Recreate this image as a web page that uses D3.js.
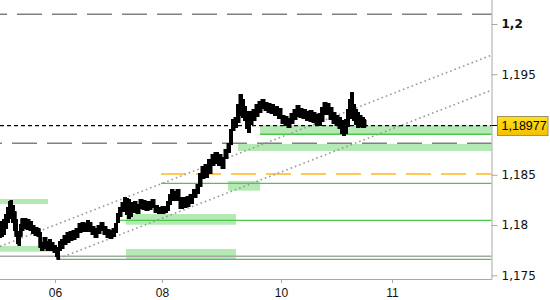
<!DOCTYPE html>
<html><head><meta charset="utf-8">
<script src="https://cdn.jsdelivr.net/npm/d3@7"></script>
<style>html,body{margin:0;padding:0;background:#fff;}svg{display:block;}</style>
</head><body>
<script>
// ---- data ----
const barIndex = [0,2,4,6,8,10,11,13,15,16,18,19,21,22,25,28,31,33,36,39,40,42,45,48,50,52,55,57,58,60,62,65,68,71,74,77,80,83,86,88,90,93,96,99,102,105,108,111,114,116,118,120,123,125,127,129,131,133,135,138,141,144,147,150,153,156,160,163,166,168,170,172,175,178,181,185,188,191,195,198,200,203,206,210,213,216,220,223,226,229,231,233,236,238,241,243,245,247,249,251,254,257,260,263,266,269,272,276,280,283,286,289,292,295,298,301,304,308,311,314,317,320,322,325,328,331,334,337,340,342,344,346,348,350,352,354,356,358,360,363,365];
const highs = [1.17970,1.18030,1.18050,1.18100,1.18169,1.18229,1.18239,1.18189,1.18129,1.18050,1.17930,1.17891,1.18000,1.18060,1.18060,1.18050,1.18030,1.17990,1.17970,1.17960,1.17920,1.17821,1.17871,1.17831,1.17851,1.17821,1.17791,1.17771,1.17751,1.17831,1.17851,1.17891,1.17920,1.17930,1.17940,1.17960,1.18010,1.18020,1.18010,1.18040,1.18020,1.17980,1.17960,1.17990,1.18020,1.17980,1.17950,1.17940,1.17960,1.18010,1.18110,1.18169,1.18219,1.18269,1.18259,1.18249,1.18199,1.18219,1.18229,1.18199,1.18249,1.18239,1.18229,1.18229,1.18249,1.18189,1.18169,1.18179,1.18179,1.18229,1.18299,1.18348,1.18328,1.18348,1.18269,1.18269,1.18279,1.18299,1.18348,1.18398,1.18508,1.18577,1.18597,1.18647,1.18697,1.18716,1.18697,1.18667,1.18746,1.18806,1.18945,1.19045,1.19065,1.19194,1.19293,1.19244,1.19174,1.19124,1.19065,1.19124,1.19144,1.19194,1.19224,1.19244,1.19214,1.19204,1.19194,1.19174,1.19154,1.19085,1.19075,1.19055,1.19105,1.19144,1.19184,1.19154,1.19144,1.19124,1.19134,1.19114,1.19095,1.19105,1.19164,1.19214,1.19204,1.19164,1.19114,1.19085,1.19065,1.19035,1.19005,1.19045,1.19144,1.19244,1.19313,1.19194,1.19144,1.19114,1.19085,1.19065,1.19045];
const lows = [1.17881,1.17891,1.17910,1.17970,1.18030,1.18070,1.18100,1.18030,1.17950,1.17891,1.17821,1.17801,1.17891,1.17950,1.17970,1.17960,1.17950,1.17920,1.17901,1.17891,1.17781,1.17751,1.17771,1.17751,1.17771,1.17751,1.17731,1.17692,1.17662,1.17751,1.17771,1.17811,1.17831,1.17851,1.17861,1.17881,1.17930,1.17940,1.17940,1.17970,1.17940,1.17910,1.17881,1.17920,1.17950,1.17910,1.17881,1.17871,1.17891,1.17930,1.18030,1.18090,1.18139,1.18149,1.18110,1.18070,1.18090,1.18129,1.18129,1.18119,1.18169,1.18159,1.18149,1.18159,1.18179,1.18129,1.18119,1.18119,1.18129,1.18149,1.18209,1.18249,1.18249,1.18249,1.18169,1.18179,1.18189,1.18219,1.18279,1.18318,1.18388,1.18468,1.18478,1.18517,1.18597,1.18617,1.18597,1.18567,1.18667,1.18726,1.18806,1.18945,1.18975,1.19025,1.19095,1.19075,1.19045,1.18965,1.18925,1.19005,1.19045,1.19085,1.19124,1.19164,1.19144,1.19124,1.19114,1.19095,1.19065,1.19015,1.18995,1.18975,1.19015,1.19055,1.19085,1.19075,1.19065,1.19045,1.19035,1.19025,1.19005,1.18995,1.19035,1.19105,1.19105,1.19055,1.19015,1.18995,1.18965,1.18915,1.18896,1.18915,1.18985,1.19065,1.19105,1.19045,1.19005,1.18975,1.18985,1.18975,1.18975];

const lastPrice = "1,18977";
const bidLine = 1.1899;

const yTicks = [1.175, 1.18, 1.185, 1.195, 1.2];
const yTickLabels = ["1,175", "1,18", "1,185", "1,195", "1,2"];
const xTickIndex = [55, 162, 281, 392];
const xTickLabels = ["06", "08", "10", "11"];

// horizontal levels
const grayDashLevels = [1.20097, 1.18813];
const greenLevels = [1.18903, 1.18415, 1.18047, 1.17659];
const greenLevelStart = [260, 161, 116, 57];
const orangeLevel = 1.18508, orangeStart = 161;
const graySolidLevel = 1.17689;
// zones [startIndex, endIndex, top, bottom]
const zoneStart = [260, 238, 0, 0, 126, 126, 228];
const zoneEnd   = [492, 492, 48, 55, 236, 236, 260];
const zoneTop   = [1.18992, 1.18806, 1.18259, 1.17791, 1.18110, 1.17762, 1.18438];
const zoneBottom= [1.18903, 1.18737, 1.18209, 1.17735, 1.18003, 1.17659, 1.18342];
// channel lines
const channelStart = [[0, 1.17787], [59, 1.17669]];
const channelEnd   = [[492, 1.19692], [492, 1.19343]];

// ---- drawing ----
const W = 550, H = 300;
const plotRight = 491.5, plotBottom = 279;
const svg = d3.select("body").append("svg").attr("width", W).attr("height", H);
const x = d3.scaleLinear().domain([0, 492]).range([0, 492]);
const y = d3.scaleLinear().domain([1.175, 1.2]).range([275.3, 24]);

const defs = svg.append("defs");
defs.append("clipPath").attr("id", "plot").append("rect")
  .attr("x", 0).attr("y", 0).attr("width", plotRight).attr("height", plotBottom);
const grad = defs.append("linearGradient").attr("id", "yel").attr("x1", 0).attr("y1", 0).attr("x2", 0).attr("y2", 1);
grad.append("stop").attr("offset", "0%").attr("stop-color", "#ffe21f");
grad.append("stop").attr("offset", "100%").attr("stop-color", "#f4c000");

const g = svg.append("g").attr("clip-path", "url(#plot)");

// zones
g.selectAll("rect.zone").data(zoneStart).join("rect").attr("class", "zone")
  .attr("x", (d, i) => x(d))
  .attr("width", (d, i) => x(zoneEnd[i]) - x(d))
  .attr("y", (d, i) => y(zoneTop[i]))
  .attr("height", (d, i) => y(zoneBottom[i]) - y(zoneTop[i]))
  .attr("fill", "#b4e9b4");

// gray solid
g.append("line").attr("x1", x(0)).attr("x2", x(492))
  .attr("y1", y(graySolidLevel)).attr("y2", y(graySolidLevel))
  .attr("stroke", "#a8a8a8").attr("stroke-width", 1.5);

// green levels
g.selectAll("line.green").data(greenLevels).join("line").attr("class", "green")
  .attr("x1", (d, i) => x(greenLevelStart[i])).attr("x2", x(492))
  .attr("y1", d => y(d)).attr("y2", d => y(d))
  .attr("stroke", "#4cc74c").attr("stroke-width", 1.3);

// orange dashed
g.append("line").attr("x1", x(orangeStart)).attr("x2", x(492))
  .attr("y1", y(orangeLevel)).attr("y2", y(orangeLevel))
  .attr("stroke", "#ffb81c").attr("stroke-width", 1.4).attr("stroke-dasharray", "25,10");

// gray long dash
const offs = [18, 23];
g.selectAll("line.gdash").data(grayDashLevels).join("line").attr("class", "gdash")
  .attr("x1", x(0)).attr("x2", x(492))
  .attr("y1", d => y(d)).attr("y2", d => y(d))
  .attr("stroke", "#808080").attr("stroke-width", 1.4)
  .attr("stroke-dasharray", "25,10").attr("stroke-dashoffset", (d, i) => offs[i]);

// channel dotted
g.selectAll("line.chan").data(channelStart).join("line").attr("class", "chan")
  .attr("x1", d => x(d[0])).attr("y1", d => y(d[1]))
  .attr("x2", (d, i) => x(channelEnd[i][0])).attr("y2", (d, i) => y(channelEnd[i][1]))
  .attr("stroke", "#999").attr("stroke-width", 1.6).attr("stroke-dasharray", "1.6,3");

// bid line
g.append("line").attr("x1", x(0)).attr("x2", x(492))
  .attr("y1", y(bidLine)).attr("y2", y(bidLine))
  .attr("stroke", "#000").attr("stroke-width", 1.2).attr("stroke-dasharray", "4,3");

// price band
const pts = barIndex.map((b, i) => ({b, h: highs[i], l: lows[i]}));
g.append("path").datum(pts)
  .attr("d", d3.area().curve(d3.curveStep).x(d => x(d.b)).y0(d => y(d.l)).y1(d => y(d.h)))
  .attr("fill", "#000").attr("stroke", "#000").attr("stroke-width", 2).attr("stroke-linejoin", "miter");
g.selectAll("line.bar").data(pts).join("line").attr("class", "bar")
  .attr("x1", d => x(d.b)).attr("x2", d => x(d.b))
  .attr("y1", d => y(d.h)).attr("y2", d => y(d.l))
  .attr("stroke", "#000").attr("stroke-width", 3);

// axes
const yAxis = svg.append("g").attr("transform", `translate(${plotRight},0)`)
  .call(d3.axisRight(y).tickValues(yTicks).tickFormat((d, i) => yTickLabels[i]).tickSize(6).tickPadding(4));
yAxis.select(".domain").attr("d", `M0.5,0V${plotBottom}`).attr("stroke", "#a8a8a8");
yAxis.selectAll(".tick line").attr("stroke", "#a8a8a8");
yAxis.selectAll(".tick text").attr("font-family", "Tahoma, 'DejaVu Sans', 'Liberation Sans', sans-serif")
  .attr("font-size", 12).attr("fill", "#111")
  .attr("font-weight", (d, i) => d === 1.2 ? "bold" : "normal");

const xAxis = svg.append("g").attr("transform", `translate(0,${plotBottom})`)
  .call(d3.axisBottom(x).tickValues(xTickIndex).tickFormat((d, i) => xTickLabels[i]).tickSize(4).tickPadding(5));
xAxis.select(".domain").attr("d", `M0,0.5H${plotRight + 0.5}`).attr("stroke", "#a8a8a8");
xAxis.selectAll(".tick line").attr("stroke", "#a8a8a8");
xAxis.selectAll(".tick text").attr("font-family", "Tahoma, 'Liberation Sans', sans-serif")
  .attr("font-size", 12).attr("fill", "#111");

// current price label
const py = y(bidLine);
svg.append("line").attr("x1", plotRight).attr("x2", plotRight + 7).attr("y1", py).attr("y2", py)
  .attr("stroke", "#000").attr("stroke-width", 1);
svg.append("rect").attr("x", 497.5).attr("y", py - 9).attr("width", 50.5).attr("height", 19)
  .attr("fill", "url(#yel)").attr("stroke", "#a09060").attr("stroke-width", 1);
svg.append("text").attr("x", 501.5).attr("y", py + 0.5).attr("dy", "0.35em")
  .attr("font-family", "'Liberation Sans', Arial, sans-serif").attr("font-size", 12.5).attr("fill", "#000")
  .text(lastPrice);
</script>
</body></html>
